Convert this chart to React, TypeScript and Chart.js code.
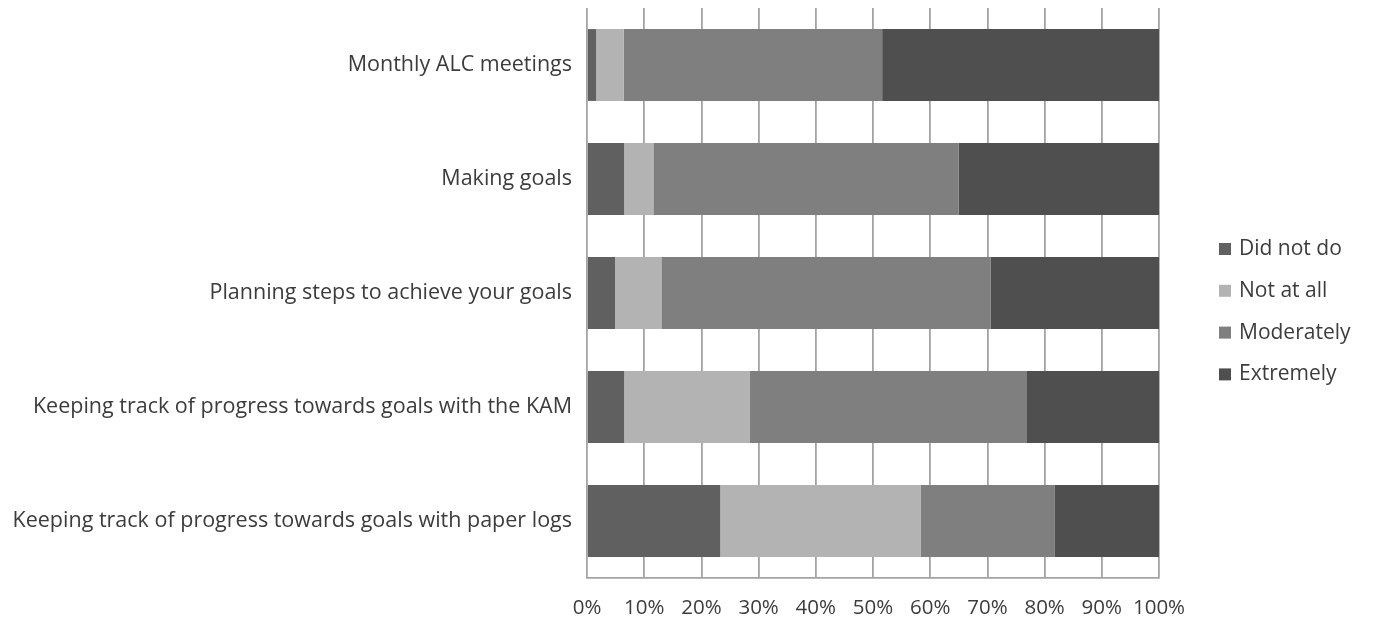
import React, { useEffect, useRef } from "react";
import { Chart, registerables } from "chart.js";

Chart.register(...registerables);

const categories = [
  "Monthly ALC meetings",
  "Making goals",
  "Planning steps to achieve your goals",
  "Keeping track of progress towards goals with the KAM",
  "Keeping track of progress towards goals with paper logs",
];

const didNotDo = [1.6, 6.5, 4.9, 6.5, 23.3];
const notAtAll = [4.8, 5.1, 8.1, 21.9, 35.0];
const moderately = [45.2, 53.4, 57.6, 48.4, 23.5];
const extremely = [48.4, 35.0, 29.4, 23.2, 18.2];

const seriesNames = ["Did not do", "Not at all", "Moderately", "Extremely"];
const seriesColors = ["#606060", "#b3b3b3", "#7f7f7f", "#4f4f4f"];

const tickLabels = ["0%", "10%", "20%", "30%", "40%", "50%", "60%", "70%", "80%", "90%", "100%"];

const FONT = "'Open Sans', sans-serif";
const TEXT_COLOR = "#3c3c3c";
const GRID_COLOR = "#a3a3a3";

const sideLegend = {
  id: "sideLegend",
  afterDraw(chart: any) {
    const ctx = chart.ctx;
    const area = chart.chartArea;
    const boxX = area.right + 60;
    const textX = boxX + 20;
    const step = 41.8;
    const startY = 249;
    ctx.save();
    ctx.font = `21px ${FONT}`;
    ctx.textBaseline = "middle";
    ctx.textAlign = "left";
    chart.data.datasets.forEach((ds: any, i: number) => {
      const cy = startY + i * step;
      ctx.fillStyle = ds.backgroundColor;
      ctx.fillRect(boxX, cy - 6, 12, 12);
      ctx.fillStyle = TEXT_COLOR;
      ctx.fillText(ds.label, textX, cy);
    });
    ctx.restore();
  },
};

export default function App() {
  const ref = useRef<HTMLCanvasElement | null>(null);

  useEffect(() => {
    if (!ref.current) return;
    const seriesData = [didNotDo, notAtAll, moderately, extremely];
    const chart = new Chart(ref.current, {
      type: "bar",
      data: {
        labels: categories,
        datasets: seriesData.map((d, i) => ({
          label: seriesNames[i],
          data: d,
          backgroundColor: seriesColors[i],
          borderWidth: 0,
          barPercentage: 0.63,
          categoryPercentage: 1,
        })),
      },
      options: {
        indexAxis: "y",
        animation: false,
        responsive: true,
        maintainAspectRatio: false,
        layout: { padding: { top: 8, right: 215, bottom: 0, left: 0 } },
        plugins: {
          legend: { display: false },
          tooltip: { enabled: false },
        },
        scales: {
          x: {
            stacked: true,
            min: 0,
            max: 100,
            ticks: {
              stepSize: 10,
              padding: 18,
              color: TEXT_COLOR,
              font: { family: FONT, size: 20.5 },
              maxRotation: 0,
              callback: (_v: any, i: number) => tickLabels[i],
            },
            grid: { color: GRID_COLOR, lineWidth: 1.8, drawTicks: false },
            border: { display: true, color: GRID_COLOR, width: 1.8 },
            afterFit: (scale: any) => {
              scale.height = 49;
              scale.paddingLeft = 0;
              scale.paddingRight = 0;
            },
          },
          y: {
            stacked: true,
            ticks: {
              padding: 15,
              color: TEXT_COLOR,
              font: { family: FONT, size: 21.5 },
            },
            grid: { display: false, drawTicks: false },
            border: { display: false },
            afterFit: (scale: any) => {
              scale.width = 587;
              scale.paddingTop = 0;
              scale.paddingBottom = 0;
            },
          },
        },
      },
      plugins: [sideLegend],
    });
    return () => chart.destroy();
  }, []);

  return (
    <div style={{ position: "fixed", left: 0, top: 0, width: 1374, height: 627, background: "#fff" }}>
      <canvas ref={ref} />
    </div>
  );
}
